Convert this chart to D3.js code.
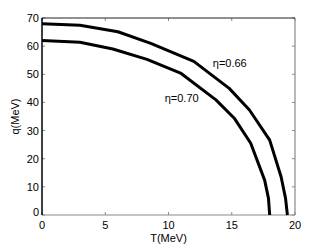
<!DOCTYPE html>
<html>
<head>
<meta charset="utf-8">
<script src="https://cdn.jsdelivr.net/npm/d3@7"></script>
<style>
  body { margin:0; background:#fff; }
  svg text { font-family: "Liberation Sans", Arial, sans-serif; fill:#000; }
</style>
</head>
<body>
<div id="chart"></div>
<script>
// curve for eta = 0.66 (outer)
var tOuter = [0, 3, 6, 8.6, 12, 14.8, 16.4, 18, 18.9, 19.25, 19.4];
var qOuter = [68, 67.4, 65.1, 61, 54.6, 45, 37.3, 26.6, 13.6, 6, 0];
// curve for eta = 0.70 (inner)
var tInner = [0, 3, 5.6, 8.3, 11, 13.75, 15.2, 16.5, 17.6, 17.9, 18.0];
var qInner = [62, 61.4, 59, 55.3, 50.3, 40.9, 34.4, 25.5, 12.4, 6, 0];

var xTicks = [0, 5, 10, 15, 20];
var yTicks = [0, 10, 20, 30, 40, 50, 60, 70];

var labels = [
  {text: "\u03b7=0.66", t: 13.5, q: 52.5},
  {text: "\u03b7=0.70", t: 9.7, q: 40}
];

var width = 327, height = 246;
var margin = {left: 42, right: 32, top: 18, bottom: 31};

var svg = d3.select('#chart').append('svg')
  .attr('width', width)
  .attr('height', height);

var x = d3.scaleLinear().domain([0, 20]).range([margin.left, width - margin.right]);
var y = d3.scaleLinear().domain([0, 70]).range([height - margin.bottom, margin.top]);

var tickLen = 3;
var gray = '#8a8a8a';

// ticks on the frame (inward)
var gx = svg.append('g');
xTicks.forEach(function(t){
  gx.append('line').attr('x1', x(t)).attr('x2', x(t))
    .attr('y1', y(0)).attr('y2', y(0) - tickLen)
    .attr('stroke', gray).attr('stroke-width', 1);
  gx.append('line').attr('x1', x(t)).attr('x2', x(t))
    .attr('y1', y(70)).attr('y2', y(70) + tickLen)
    .attr('stroke', gray).attr('stroke-width', 1);
  gx.append('text').attr('x', x(t)).attr('y', y(0) + 14)
    .attr('text-anchor', 'middle').attr('font-size', 11).text(t);
});
yTicks.forEach(function(q){
  gx.append('line').attr('x1', x(0)).attr('x2', x(0) + tickLen)
    .attr('y1', y(q)).attr('y2', y(q))
    .attr('stroke', gray).attr('stroke-width', 1);
  gx.append('line').attr('x1', x(20)).attr('x2', x(20) - tickLen)
    .attr('y1', y(q)).attr('y2', y(q))
    .attr('stroke', gray).attr('stroke-width', 1);
  gx.append('text').attr('x', x(0) - 3).attr('y', y(q) + (q === 0 ? 1 : 4))
    .attr('text-anchor', 'end').attr('font-size', 11).text(q);
});

// frame
svg.append('line').attr('x1', x(0)).attr('x2', x(20)).attr('y1', y(0)).attr('y2', y(0))
  .attr('stroke', gray).attr('stroke-width', 1.2);
svg.append('line').attr('x1', x(20)).attr('x2', x(20)).attr('y1', y(0)).attr('y2', y(70))
  .attr('stroke', gray).attr('stroke-width', 1.2);
svg.append('line').attr('x1', x(0)).attr('x2', x(20)).attr('y1', y(70)).attr('y2', y(70))
  .attr('stroke', '#222').attr('stroke-width', 1.2);
svg.append('line').attr('x1', x(0)).attr('x2', x(0)).attr('y1', y(0)).attr('y2', y(70))
  .attr('stroke', '#000').attr('stroke-width', 1.5);

// curves
var line = d3.line().x(function(d){return x(d[0])}).y(function(d){return y(d[1])});
[[tOuter, qOuter], [tInner, qInner]].forEach(function(s){
  var pts = s[0].map(function(t, i){ return [t, s[1][i]]; });
  svg.append('path').datum(pts)
    .attr('d', line)
    .attr('fill', 'none')
    .attr('stroke', '#000')
    .attr('stroke-width', 3)
    .attr('stroke-linejoin', 'round');
});

// curve labels
labels.forEach(function(l){
  svg.append('text').attr('x', x(l.t)).attr('y', y(l.q))
    .attr('font-size', 11).text(l.text);
});

// axis titles
svg.append('text').attr('x', x(10)).attr('y', height - 4)
  .attr('text-anchor', 'middle').attr('font-size', 11).text('T(MeV)');
svg.append('text')
  .attr('transform', 'translate(19,' + y(35) + ') rotate(-90)')
  .attr('text-anchor', 'middle').attr('font-size', 11).text('q(MeV)');
</script>
</body>
</html>
